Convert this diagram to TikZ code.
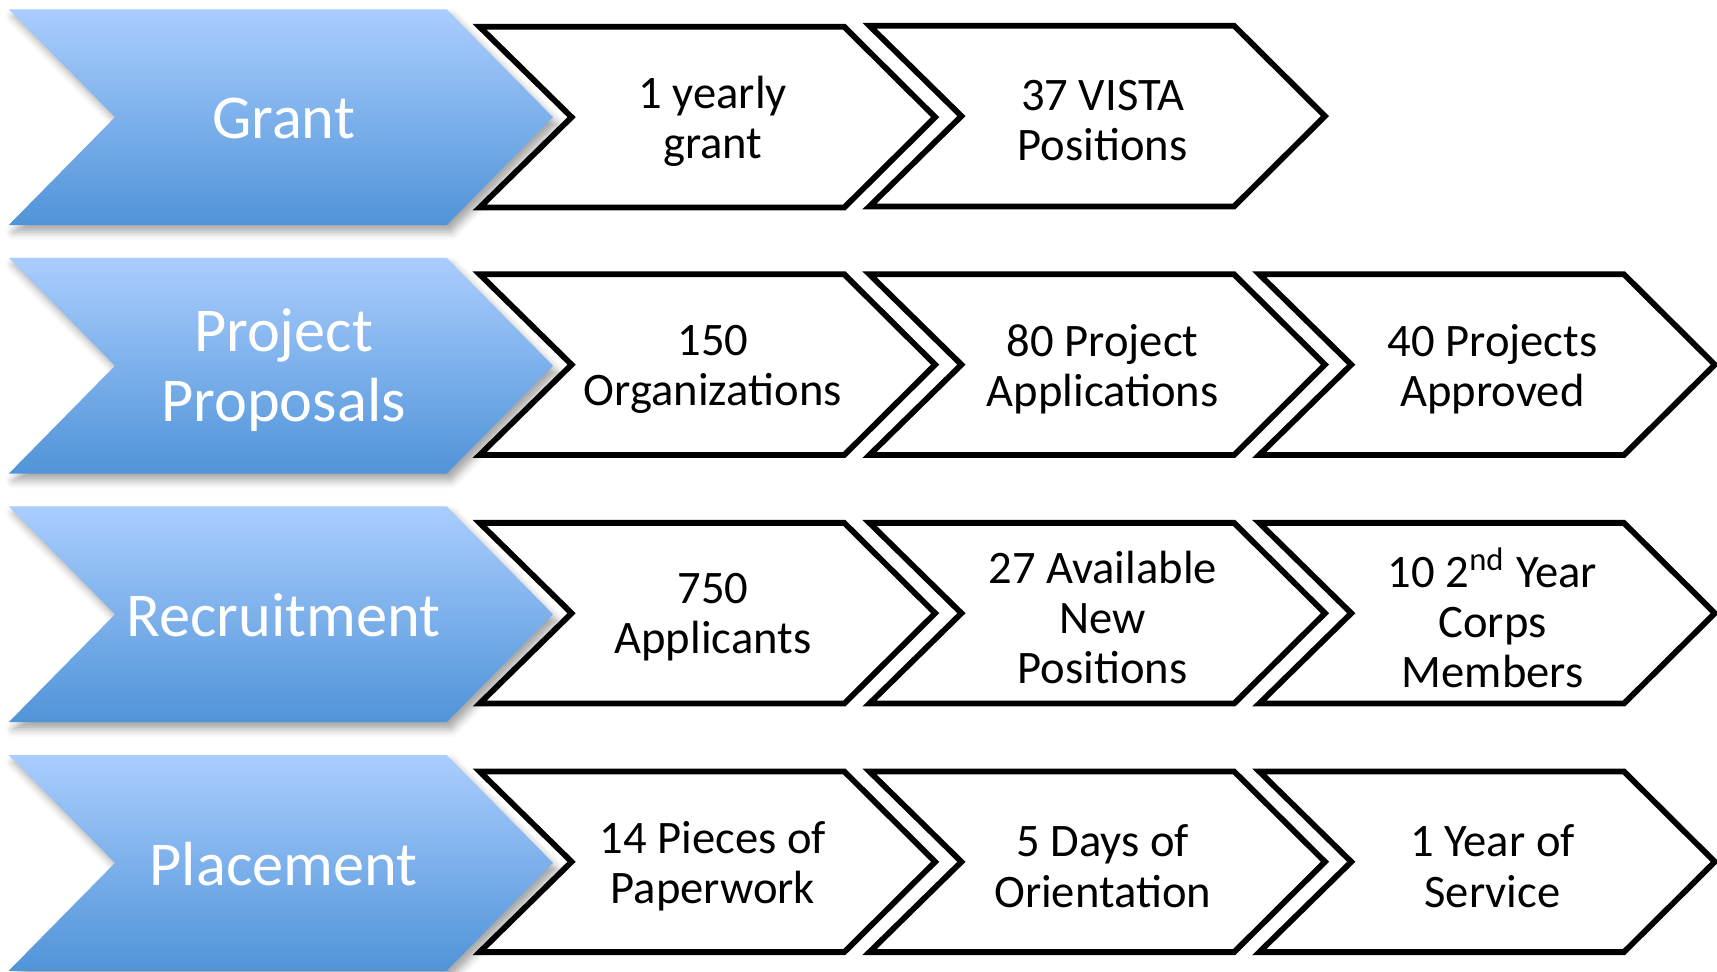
\documentclass[tikz,border=0pt]{standalone}
\usepackage{fontspec}
\setmainfont{Carlito}
\usetikzlibrary{shadows.blur}
\definecolor{bluetop}{RGB}{170,205,254}
\definecolor{bluebot}{RGB}{80,148,216}
\tikzset{
  bluechev/.style={top color=bluetop, bottom color=bluebot, draw=none,
    blur shadow={shadow xshift=1.2pt, shadow yshift=-1.8pt, shadow blur radius=2pt, shadow opacity=35}},
  whitechev/.style={draw=black, line width=1.5pt, fill=white, line join=miter},
  bluetext/.style={text=white, font=\fontsize{16.2}{18.4}\selectfont, align=center, inner sep=0pt},
  boxtext/.style={text=black, font=\fontsize{12.1}{13}\selectfont, align=center, inner sep=0pt},
}
\newcommand{\BChev}[4]{%
  \path[bluechev] (8,#1-98.5) -- (408,#1-98.5) -- (505,#1) -- (408,#1+98.5) -- (8,#1+98.5) -- (105,#1) -- cycle;
  \node[bluetext] (#2) at (259,#1+#4) {#3};}
\newcommand{\WChev}[4]{%
  \path[whitechev] (#1,#2-82.5) -- (#1+333,#2-82.5) -- (#1+416,#2) -- (#1+333,#2+82.5) -- (#1,#2+82.5) -- (#1+84,#2) -- cycle;
  \node[boxtext] (#3) at (#1+213,#2+4) {#4};}
\begin{document}
\begin{tikzpicture}[x=0.01cm,y=-0.01cm]
\useasboundingbox (0,0) rectangle (1568,887);
% row 1
\BChev{107}{grant}{Grant}{1}
\WChev{438}{107}{g1}{1 yearly\\grant}
\WChev{794}{106}{g2}{37 VISTA\\Positions}
% row 2
\BChev{334}{proposals}{Project\\Proposals}{4}
\WChev{438}{333}{p1}{150\\Organizations}
\WChev{794}{333}{p2}{80 Project\\Applications}
\WChev{1150}{333}{p3}{40 Projects\\Approved}
% row 3
\BChev{561}{recruit}{Recruitment}{1}
\WChev{438}{560}{r1}{750\\Applicants}
\WChev{794}{560}{r2}{27 Available\\New\\Positions}
\WChev{1150}{560}{r3}{10 2\textsuperscript{nd} Year\\Corps\\Members}
% row 4
\BChev{788}{place}{Placement}{1}
\WChev{438}{787}{l1}{14 Pieces of\\Paperwork}
\WChev{794}{787}{l2}{5 Days of\\Orientation}
\WChev{1150}{787}{l3}{1 Year of\\Service}
\end{tikzpicture}
\end{document}
